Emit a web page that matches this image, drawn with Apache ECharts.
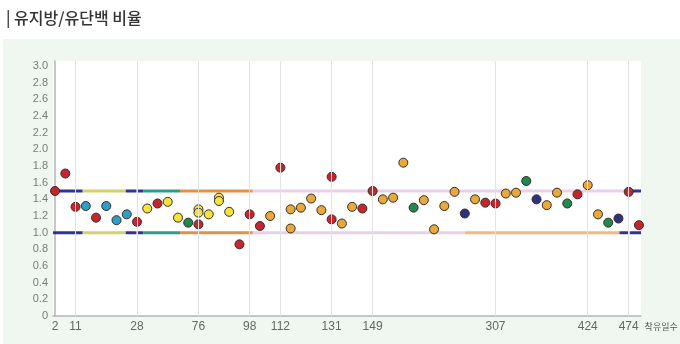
<!DOCTYPE html>
<html>
<head>
<meta charset="utf-8">
<title>유지방/유단백 비율</title>
<script src="https://cdn.jsdelivr.net/npm/echarts@6/dist/echarts.min.js"></script>
<style>
  html, body { margin: 0; padding: 0; background: #fff; }
  #chart { width: 680px; height: 344px; }
</style>
</head>
<body>
<div id="chart"></div>
<script>
// Days in milk shown under the axis, and the test sequence number each one sits at
const dayLabels = ['2', '11', '28', '76', '98', '112', '131', '149', '307', '424', '474'];
const dayLabelIndex = [0, 2, 8, 14, 19, 22, 27, 31, 43, 52, 56];

// Fat/protein ratio per test: [test sequence number, ratio], grouped by marker group
const groupRed = [
  [0, 1.50], [1, 1.71], [2, 1.31], [4, 1.18], [8, 1.13], [10, 1.35], [14, 1.10],
  [18, 0.86], [19, 1.22], [20, 1.08], [22, 1.78], [27, 1.67], [27, 1.16], [30, 1.29],
  [31, 1.50], [42, 1.36], [43, 1.35], [51, 1.46], [56, 1.49], [57, 1.09]
];
const groupBlue = [[3, 1.32], [5, 1.32], [6, 1.15], [7, 1.22]];
const groupYellow = [
  [9, 1.29], [11, 1.37], [12, 1.18], [14, 1.28], [14, 1.24], [15, 1.22],
  [16, 1.42], [16, 1.38], [17, 1.25]
];
const groupGreen = [[13, 1.12], [35, 1.30], [46, 1.62], [50, 1.35], [54, 1.12]];
const groupOrange = [
  [21, 1.20], [23, 1.28], [23, 1.05], [24, 1.30], [25, 1.41], [26, 1.27], [28, 1.11],
  [29, 1.31], [32, 1.40], [33, 1.42], [34, 1.84], [36, 1.39], [37, 1.04], [38, 1.32],
  [39, 1.49], [41, 1.40], [44, 1.47], [45, 1.48], [48, 1.33], [49, 1.48], [52, 1.57],
  [53, 1.22]
];
const groupNavy = [[40, 1.23], [47, 1.40], [55, 1.17]];

// Reference range limits
const upperLimit = 1.5;
const lowerLimit = 1.0;

// Stage spans along the test sequence for each limit: [from, to, stage]
const upperSpans = [
  [-0.2, 2.7, 'dry'], [2.7, 6.9, 'early'], [6.9, 7.95, 'dry'], [8.1, 8.6, 'dry'],
  [8.6, 12.2, 'peak'], [12.2, 19.3, 'mid'], [19.3, 55.85, 'late'], [55.85, 57.2, 'dry']
];
const lowerSpans = [
  [-0.2, 2.7, 'dry'], [2.7, 6.9, 'early'], [6.9, 7.95, 'dry'], [8.1, 8.6, 'dry'],
  [8.6, 12.2, 'peak'], [12.2, 19.3, 'mid'], [19.3, 40.0, 'late'], [40.0, 55.1, 'extended'],
  [55.1, 55.95, 'dry'], [56.1, 57.2, 'dry']
];

// Styling
const stageColors = {
  dry: '#2f3590', early: '#d3d16e', peak: '#2e9c8b', mid: '#e0914a',
  late: '#e8d1e8', extended: '#f2ba7c'
};
const markerGroups = [
  { data: groupRed, color: '#c3262f' },
  { data: groupBlue, color: '#2a9fc9' },
  { data: groupYellow, color: '#f4e33a' },
  { data: groupGreen, color: '#1e8b4d' },
  { data: groupOrange, color: '#e8a93c' },
  { data: groupNavy, color: '#2d3282' }
];
const numFont = 'Liberation Sans, Arial, sans-serif';
const krFont = 'Noto Sans CJK KR, sans-serif';

const chart = echarts.init(document.getElementById('chart'), null, { renderer: 'canvas' });

const series = [];

// Vertical guide lines at the labelled days
series.push({
  type: 'line',
  data: [],
  silent: true,
  z: 1,
  markLine: {
    silent: true,
    symbol: 'none',
    animation: false,
    label: { show: false },
    lineStyle: { color: '#e3e3e3', width: 1, type: 'solid' },
    data: dayLabelIndex.filter(i => i > 0).map(i => ({ xAxis: i }))
  }
});

// Reference range lines, coloured by stage
function addSpans(spans, limit) {
  spans.forEach(([from, to, stage]) => {
    series.push({
      type: 'line',
      data: [[from, limit], [to, limit]],
      symbol: 'none',
      silent: true,
      z: 2,
      lineStyle: { color: stageColors[stage], width: 3 }
    });
  });
}
addSpans(upperSpans, upperLimit);
addSpans(lowerSpans, lowerLimit);

// Test results
markerGroups.forEach(g => {
  series.push({
    type: 'scatter',
    data: g.data,
    symbol: 'circle',
    symbolSize: 9,
    z: 3,
    itemStyle: { color: g.color, borderColor: '#3a2a26', borderWidth: 1, opacity: 1 }
  });
});

chart.setOption({
  animation: false,
  backgroundColor: '#ffffff',
  title: {
    text: '| 유지방/유단백 비율',
    left: 1,
    top: 5,
    textStyle: { fontFamily: krFont, fontSize: 16, fontWeight: 500, color: '#333333' }
  },
  graphic: [{
    type: 'rect',
    z: -100,
    silent: true,
    shape: { x: 3, y: 39, width: 677, height: 305 },
    style: { fill: '#eff7f0' }
  }],
  grid: {
    left: 53,
    right: 39,
    top: 61,
    bottom: 28,
    outerBoundsMode: 'none',
    containLabel: false,
    show: true,
    backgroundColor: '#ffffff',
    borderWidth: 0
  },
  xAxis: {
    type: 'value',
    min: -0.2,
    max: 57.2,
    name: '착유일수',
    nameLocation: 'end',
    nameGap: 1,
    nameTextStyle: {
      fontFamily: krFont, fontSize: 9, color: '#555555',
      align: 'left', verticalAlign: 'top', padding: [6, 0, 0, 0]
    },
    axisLine: { show: true, lineStyle: { color: '#b5b5b5', width: 1.5 } },
    axisTick: { show: false },
    splitLine: { show: false },
    axisLabel: {
      customValues: dayLabelIndex,
      formatter: v => dayLabels[dayLabelIndex.indexOf(Math.round(v))] || '',
      margin: 5,
      fontFamily: numFont,
      fontSize: 12,
      color: '#666666'
    }
  },
  yAxis: {
    type: 'value',
    min: 0,
    max: 3.06,
    interval: 0.2,
    axisLine: { show: true, lineStyle: { color: '#b5b5b5', width: 1.5 } },
    axisTick: { show: false },
    splitLine: { show: false },
    axisLabel: {
      showMaxLabel: false,
      margin: 5,
      fontFamily: numFont,
      fontSize: 11,
      color: '#7a7a7a',
      formatter: v => (v === 0 ? '0' : v.toFixed(1))
    }
  },
  series: series
});
</script>
</body>
</html>
